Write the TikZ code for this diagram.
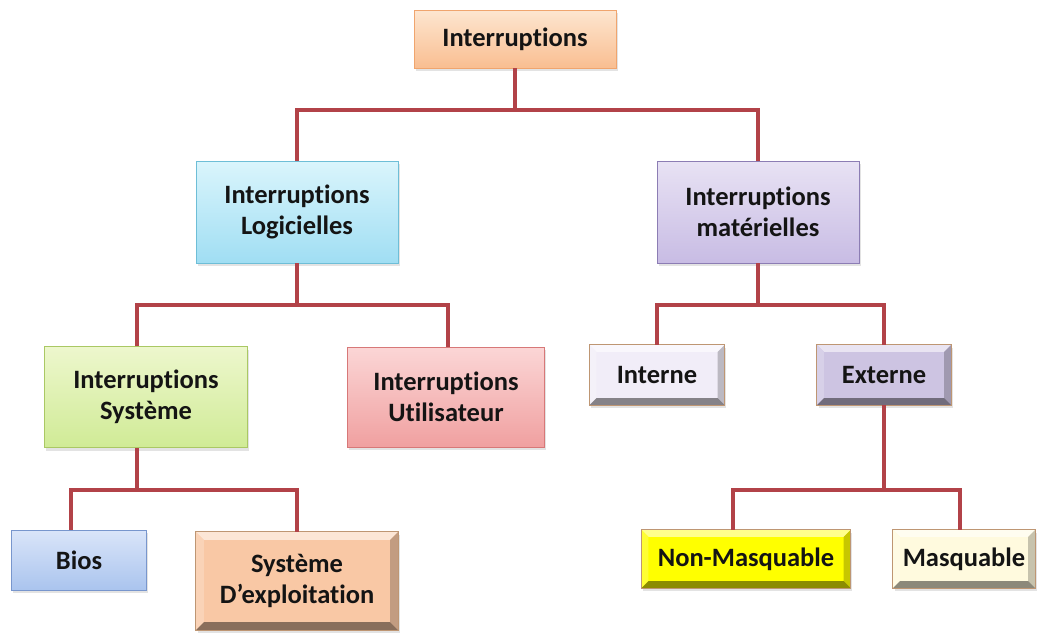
\documentclass[tikz,border=0pt]{standalone}
\usepackage{fontspec}
\setmainfont[Ligatures=NoCommon]{Carlito}
\usetikzlibrary{shadows}

\definecolor{linkred}{RGB}{178,66,72}
\definecolor{inkcol}{RGB}{20,20,20}
\definecolor{framecol}{RGB}{190,150,115}

% gradient and fill colours of the boxes
\definecolor{topA}{RGB}{253,230,208}
\definecolor{topB}{RGB}{249,190,145}
\definecolor{topE}{RGB}{240,165,110}
\definecolor{logA}{RGB}{218,245,252}
\definecolor{logB}{RGB}{160,222,243}
\definecolor{logE}{RGB}{110,190,215}
\definecolor{matA}{RGB}{232,226,244}
\definecolor{matB}{RGB}{200,188,228}
\definecolor{matE}{RGB}{140,125,180}
\definecolor{sysA}{RGB}{237,247,205}
\definecolor{sysB}{RGB}{208,235,150}
\definecolor{sysE}{RGB}{170,200,100}
\definecolor{usrA}{RGB}{251,214,214}
\definecolor{usrB}{RGB}{240,160,160}
\definecolor{usrE}{RGB}{215,120,120}
\definecolor{biosA}{RGB}{218,229,249}
\definecolor{biosB}{RGB}{170,196,238}
\definecolor{biosE}{RGB}{120,150,205}
\definecolor{intF}{RGB}{241,237,248}
\definecolor{extF}{RGB}{205,196,226}
\definecolor{sdxF}{RGB}{249,200,165}
\definecolor{nmF}{RGB}{255,255,0}
\definecolor{mqF}{RGB}{255,250,222}

% beveled frame drawn over a named node: #1 node, #2 base colour, #3 bevel width
\newcommand\bevelframe[3]{%
  \fill[#2!45!white] (#1.north west) -- (#1.north east)
     -- ([xshift=-#3,yshift=-#3]#1.north east) -- ([xshift=#3,yshift=-#3]#1.north west) -- cycle;
  \fill[#2!80!white] (#1.north west) -- ([xshift=#3,yshift=-#3]#1.north west)
     -- ([xshift=#3,yshift=#3]#1.south west) -- (#1.south west) -- cycle;
  \fill[#2!78!black] (#1.north east) -- ([xshift=-#3,yshift=-#3]#1.north east)
     -- ([xshift=-#3,yshift=#3]#1.south east) -- (#1.south east) -- cycle;
  \fill[#2!55!black] (#1.south west) -- ([xshift=#3,yshift=#3]#1.south west)
     -- ([xshift=-#3,yshift=#3]#1.south east) -- (#1.south east) -- cycle;
  \draw[framecol, line width=0.8pt] (#1.north west) rectangle (#1.south east);
}

\tikzset{
  conn/.style={draw=linkred, line width=4pt},
  box/.style={rectangle, inner sep=2pt, align=center, text=inkcol,
    font=\bfseries\fontsize{26.5}{31}\selectfont,
    drop shadow={shadow xshift=1.5pt, shadow yshift=-3pt, opacity=0.22}},
  flat/.style={box, top color=#1A, bottom color=#1B, draw=#1E, line width=0.8pt},
  bev/.style={box, fill=#1F},
}

\begin{document}
\begin{tikzpicture}[x=1pt, y=-1pt]
\useasboundingbox (0,0) rectangle (1041,632);

% first level
\node[flat=top, minimum width=202pt, minimum height=58pt]
  (top) at (515,39) {Interruptions};

% second level
\node[flat=log, minimum width=202pt, minimum height=102pt]
  (log) at (297,212) {Interruptions\\Logicielles};
\node[flat=mat, minimum width=202pt, minimum height=102pt]
  (mat) at (758,212) {Interruptions\\matérielles};

% third level
\node[flat=sys, minimum width=203pt, minimum height=101pt]
  (sys) at (146,397) {Interruptions\\Système};
\node[flat=usr, minimum width=197pt, minimum height=100pt]
  (usr) at (446,397) {Interruptions\\Utilisateur};
\node[bev=int, minimum width=135pt, minimum height=60pt]
  (int) at (657,375) {Interne};
\node[bev=ext, minimum width=134pt, minimum height=60pt]
  (ext) at (884,375) {Externe};

% fourth level
\node[flat=bios, minimum width=135pt, minimum height=60pt]
  (bios) at (79,560) {Bios};
\node[bev=sdx, minimum width=202pt, minimum height=98pt]
  (sdx) at (297,581) {Système\\D’exploitation};
\node[bev=nm, minimum width=209pt, minimum height=58pt]
  (nm) at (746,559) {Non-Masquable};
\node[bev=mq, minimum width=142pt, minimum height=58pt]
  (mq) at (964,559) {Masquable};

% bevelled frames
\bevelframe{int}{intF}{7pt}
\bevelframe{ext}{extF}{7pt}
\bevelframe{sdx}{sdxF}{8pt}
\bevelframe{nm}{nmF}{7pt}
\bevelframe{mq}{mqF}{7pt}

% junction points of the tree
\coordinate (j1) at (515,110);
\coordinate (j2) at (297,305);
\coordinate (j3) at (758,305);
\coordinate (j4) at (884,490);
\coordinate (j5) at (137,490);

% connectors
\draw[conn] (top.south) -- (j1);
\draw[conn] (log.north) |- (j1) -| (mat.north);

\draw[conn] (log.south) -- (j2);
\draw[conn] ([xshift=-9pt]sys.north) |- (j2) -| ([xshift=2pt]usr.north);

\draw[conn] (mat.south) -- (j3);
\draw[conn] (int.north) |- (j3) -| (ext.north);

\draw[conn] (ext.south) -- (j4);
\draw[conn] ([xshift=-13pt]nm.north) |- (j4) -| ([xshift=-4pt]mq.north);

\draw[conn] ([xshift=-9pt]sys.south) -- (j5);
\draw[conn] ([xshift=-8pt]bios.north) |- (j5) -| (sdx.north);
\end{tikzpicture}
\end{document}
